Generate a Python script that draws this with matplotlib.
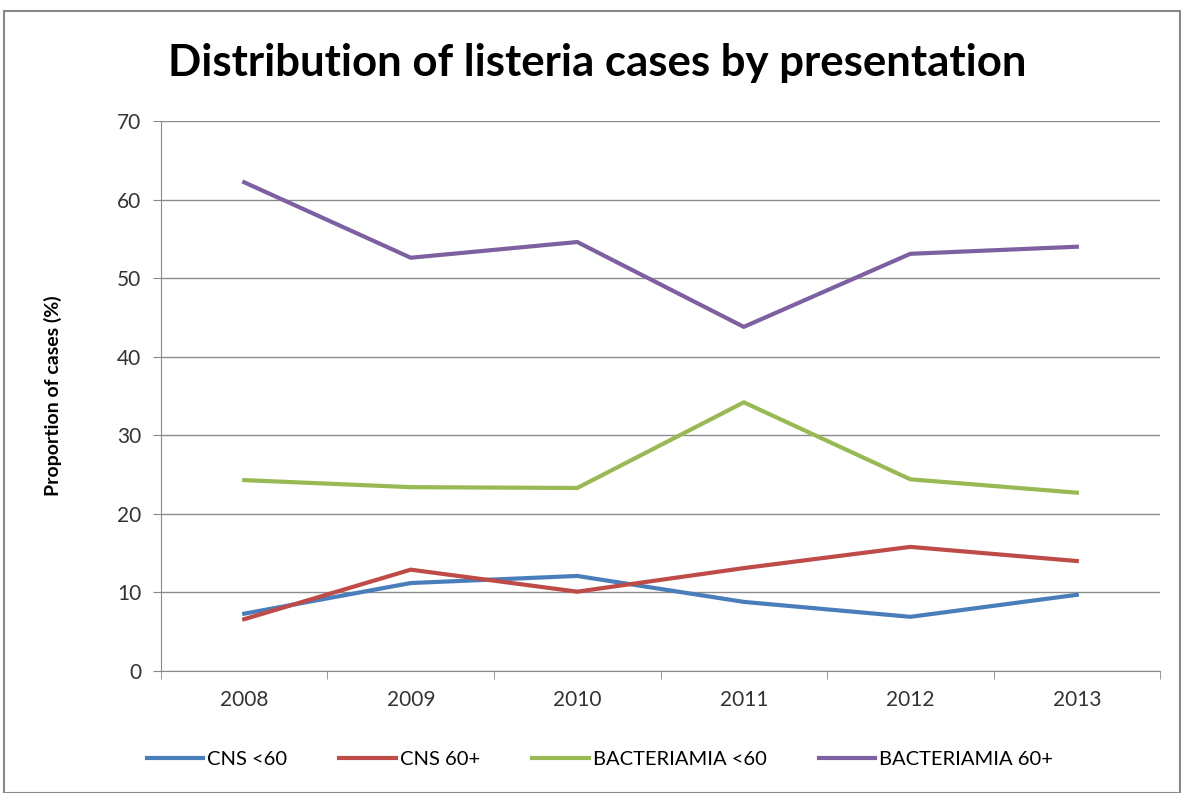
import matplotlib.pyplot as plt
from matplotlib.patches import Rectangle

years = ['2008', '2009', '2010', '2011', '2012', '2013']
cns_u60 = [7.3, 11.2, 12.1, 8.8, 6.9, 9.7]
cns_60p = [6.6, 12.9, 10.1, 13.1, 15.8, 14.0]
bact_u60 = [24.3, 23.4, 23.3, 34.2, 24.4, 22.7]
bact_60p = [62.2, 52.6, 54.6, 43.8, 53.1, 54.0]

series = [
    ('CNS <60', cns_u60, '#4a7ebb'),
    ('CNS 60+', cns_60p, '#be4b48'),
    ('BACTERIAMIA <60', bact_u60, '#98b954'),
    ('BACTERIAMIA 60+', bact_60p, '#7d60a0'),
]

plt.rcParams['font.family'] = ['Lato', 'DejaVu Sans']

fig = plt.figure(figsize=(11.81, 7.93), dpi=100)
fig.patches.append(Rectangle((0.003, 0.0), 0.996, 0.986, transform=fig.transFigure,
                             fill=False, edgecolor='#888888', linewidth=1.5))

ax = fig.add_axes([0.1363, 0.1538, 0.846, 0.6936])
x = list(range(len(years)))
for name, vals, col in series:
    ax.plot(x, vals, color=col, linewidth=3, label=name)

ax.set_xlim(-0.5, len(years) - 0.5)
ax.set_ylim(0, 70)
ax.set_yticks(range(0, 71, 10))
ax.set_xticks(x)
ax.set_xticklabels(years)
ax.set_xticks([i + 0.5 for i in range(-1, len(years))], minor=True)
ax.tick_params(axis='x', which='major', length=0, pad=14, labelsize=15, colors='#333333')
ax.tick_params(axis='x', which='minor', length=6, color='#888888', direction='out')
ax.tick_params(axis='y', length=6, color='#888888', labelsize=15, pad=8, labelcolor='#333333')
ax.grid(axis='y', color='#8c8c8c', linewidth=1)
ax.set_axisbelow(True)
for s in ['top', 'right']:
    ax.spines[s].set_visible(False)
for s in ['left', 'bottom']:
    ax.spines[s].set_color('#888888')

ax.set_ylabel('Proportion of cases (%)', fontsize=14, fontweight='bold', labelpad=40)
fig.text(0.506, 0.92, 'Distribution of listeria cases by presentation',
         ha='center', va='center', fontsize=31.5, fontweight='bold')

fig.legend(loc='center', bbox_to_anchor=(0.508, 0.042), ncol=4, frameon=False,
           fontsize=14.5, handlelength=2.8, columnspacing=2.6, handletextpad=0.2)

fig.savefig('out.png', dpi=100)
